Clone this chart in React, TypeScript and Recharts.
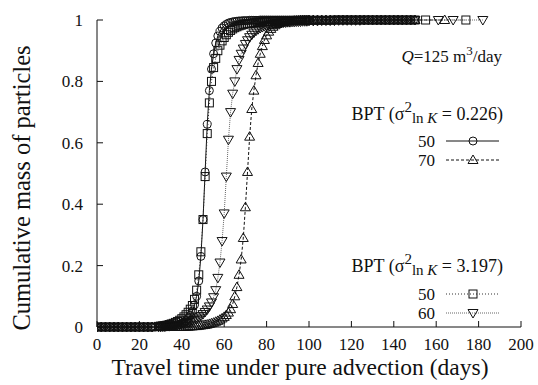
import React from "react";
import { LineChart, Line, XAxis, YAxis } from "recharts";

// travel time (days) at which the cumulative mass was sampled
const days = [
  0, 2, 4, 6, 8, 10, 12, 14, 16, 18, 20, 22, 24, 26,
  29, 30, 31, 32, 33, 34, 35, 36, 37, 38,
  39, 40, 41, 42, 43, 44, 45, 46, 47, 48,
  49, 50, 51, 52, 53, 54, 55, 56, 57, 58,
  59, 60, 61, 62, 63, 64, 65, 66, 67, 68,
  69, 70, 71, 72, 73, 74, 75, 76, 77, 78,
  79, 80, 81, 82, 83, 84, 85, 86, 87, 88,
  89, 90, 91, 92, 93, 94, 95, 96, 97, 98,
  99, 100,
  102, 104, 106, 108, 110, 112, 114, 116, 118, 120, 122, 124, 126,
  128, 130, 132, 134, 136, 138, 140, 142, 144, 146, 148, 150
];

const zeros14 = [0, 0, 0, 0, 0, 0, 0, 0, 0, 0, 0, 0, 0, 0];

// BPT, sigma^2 = 0.226, 50
const massLow50 = [
  ...zeros14,
  0, 0, 0, 0, 0.001, 0.001, 0.002, 0.003, 0.004, 0.006,
  0.008, 0.011, 0.015, 0.02, 0.028, 0.038, 0.052, 0.072, 0.1, 0.15,
  0.23, 0.35, 0.505, 0.66, 0.77, 0.84, 0.89, 0.925, 0.948, 0.963,
  0.974, 0.981, 0.986, 0.99, 0.992, 0.994, 0.995, 0.996, 0.997, 0.997,
  0.998, 0.998, 0.998, 0.999, 0.999, 0.999, 0.999, 0.999, 1, 1,
  1, 1, 1, 1, 1, 1, 1, 1, 1, 1,
  1, 1, 1, 1, 1, 1, 1, 1, 1, 1,
  1, 1,
  1, 1, 1, 1, 1, 1, 1, 1, 1, 1, 1, 1, 1, 1, 1, 1, 1, 1, 1, 1, 1, 1, 1, 1, 1
];

// BPT, sigma^2 = 0.226, 70
const massLow70 = [
  ...zeros14,
  0, 0, 0, 0, 0, 0, 0, 0, 0, 0,
  0, 0, 0.001, 0.001, 0.001, 0.002, 0.002, 0.003, 0.003, 0.004,
  0.005, 0.006, 0.007, 0.008, 0.01, 0.012, 0.014, 0.017, 0.02, 0.024,
  0.028, 0.033, 0.039, 0.047, 0.058, 0.075, 0.1, 0.13, 0.17, 0.22,
  0.29, 0.39, 0.505, 0.62, 0.71, 0.77, 0.82, 0.86, 0.89, 0.915,
  0.935, 0.95, 0.962, 0.971, 0.978, 0.983, 0.987, 0.99, 0.992, 0.994,
  0.995, 0.996, 0.997, 0.997, 0.998, 0.998, 0.998, 0.999, 0.999, 0.999,
  0.999, 1,
  1, 1, 1, 1, 1, 1, 1, 1, 1, 1, 1, 1, 1, 1, 1, 1, 1, 1, 1, 1, 1, 1, 1, 1, 1
];

// BPT, sigma^2 = 3.197, 50
const massHigh50 = [
  ...zeros14,
  0.002, 0.003, 0.004, 0.005, 0.006, 0.008, 0.01, 0.012, 0.015, 0.018,
  0.022, 0.027, 0.033, 0.04, 0.048, 0.058, 0.07, 0.09, 0.12, 0.17,
  0.245, 0.35, 0.49, 0.63, 0.73, 0.8, 0.845, 0.875, 0.9, 0.918,
  0.932, 0.943, 0.952, 0.96, 0.966, 0.971, 0.975, 0.978, 0.981, 0.983,
  0.985, 0.987, 0.988, 0.989, 0.99, 0.991, 0.992, 0.993, 0.993, 0.994,
  0.994, 0.995, 0.995, 0.995, 0.996, 0.996, 0.996, 0.997, 0.997, 0.997,
  0.997, 0.998, 0.998, 0.998, 0.998, 0.998, 0.998, 0.999, 0.999, 0.999,
  0.999, 0.999,
  0.999, 0.999, 0.999, 0.999, 0.999, 1, 1, 1, 1, 1, 1, 1, 1, 1, 1, 1, 1, 1, 1, 1, 1, 1, 1, 1, 1
];

// BPT, sigma^2 = 3.197, 60
const massHigh60 = [
  ...zeros14,
  0.001, 0.001, 0.002, 0.002, 0.003, 0.003, 0.004, 0.005, 0.006, 0.007,
  0.008, 0.01, 0.011, 0.013, 0.015, 0.017, 0.02, 0.023, 0.027, 0.031,
  0.036, 0.042, 0.049, 0.057, 0.067, 0.08, 0.097, 0.12, 0.16, 0.21,
  0.28, 0.37, 0.49, 0.61, 0.7, 0.76, 0.8, 0.84, 0.87, 0.89,
  0.907, 0.922, 0.934, 0.944, 0.952, 0.959, 0.965, 0.97, 0.974, 0.977,
  0.98, 0.982, 0.984, 0.986, 0.987, 0.988, 0.989, 0.99, 0.991, 0.992,
  0.992, 0.993, 0.993, 0.994, 0.994, 0.995, 0.995, 0.995, 0.996, 0.996,
  0.996, 0.997,
  0.997, 0.997, 0.998, 0.998, 0.998, 0.998, 0.999, 0.999, 0.999, 0.999, 0.999, 0.999,
  1, 1, 1, 1, 1, 1, 1, 1, 1, 1, 1, 1, 1
];

// the last few late arrivals
const tailDaysLow70 = [164];
const tailMassLow70 = [1];
const tailDaysHigh50 = [155, 174];
const tailMassHigh50 = [1, 1];
const tailDaysHigh60 = [161, 168, 182];
const tailMassHigh60 = [1, 1, 1];

const xTicks = [0, 20, 40, 60, 80, 100, 120, 140, 160, 180, 200];
const yTicks = [0, 0.2, 0.4, 0.6, 0.8, 1];

const toRows = (t: number[], m: number[], tt: number[] = [], tm: number[] = []) =>
  [...t.map((d, i) => ({ t: d, m: m[i] })), ...tt.map((d, i) => ({ t: d, m: tm[i] }))];

const low50 = toRows(days, massLow50);
const low70 = toRows(days, massLow70, tailDaysLow70, tailMassLow70);
const high50 = toRows(days, massHigh50, tailDaysHigh50, tailMassHigh50);
const high60 = toRows(days, massHigh60, tailDaysHigh60, tailMassHigh60);

const FONT = "'Liberation Serif', 'Times New Roman', serif";
const INK = "#111";

const CircleMark = ({ cx, cy }: any) => (
  <circle cx={cx} cy={cy} r={4} fill="none" stroke={INK} strokeWidth={1} />
);
const SquareMark = ({ cx, cy }: any) => (
  <rect x={cx - 4} y={cy - 4} width={8} height={8} fill="none" stroke={INK} strokeWidth={1} />
);
const UpMark = ({ cx, cy }: any) => (
  <path d={`M${cx},${cy - 5} L${cx + 5},${cy + 3.5} L${cx - 5},${cy + 3.5} Z`} fill="none" stroke={INK} strokeWidth={1} />
);
const DownMark = ({ cx, cy }: any) => (
  <path d={`M${cx},${cy + 5} L${cx + 5},${cy - 3.5} L${cx - 5},${cy - 3.5} Z`} fill="none" stroke={INK} strokeWidth={1} />
);

const dotOf = (Mark: any) => (p: any) => <Mark key={`d${p.index}`} cx={p.cx} cy={p.cy} />;

const BottomTick = ({ x, y, payload }: any) => (
  <g>
    <line x1={x} x2={x} y1={y - 8} y2={y - 14} stroke={INK} />
    <text x={x} y={y + 15} textAnchor="middle" style={{ fontFamily: FONT }} fontSize={17} fill={INK}>
      {payload.value}
    </text>
  </g>
);

const LeftTick = ({ x, y, payload }: any) => (
  <g>
    <line x1={x + 14} x2={x + 20} y1={y} y2={y} stroke={INK} />
    <text x={x} y={y + 6} textAnchor="end" style={{ fontFamily: FONT }} fontSize={17} fill={INK}>
      {payload.value}
    </text>
  </g>
);

const TopTick = ({ x, y }: any) => <line x1={x} x2={x} y1={y} y2={y + 6} stroke={INK} />;
const RightTick = ({ x, y }: any) => <line x1={x} x2={x - 6} y1={y} y2={y} stroke={INK} />;

const LegendRow = ({ y, label, dash, Mark, color }: any) => (
  <g>
    <text x={435} y={y + 6} textAnchor="end" style={{ fontFamily: FONT }} fontSize={17} fill={INK}>
      {label}
    </text>
    <line x1={446} x2={499} y1={y} y2={y} stroke={color} strokeDasharray={dash} />
    <Mark cx={473} cy={y} />
  </g>
);

const BptTitle = ({ y, value }: any) => (
  <text x={503} y={y} textAnchor="end" style={{ fontFamily: FONT }} fontSize={18} fill={INK}>
    BPT (σ
    <tspan dy={-8} fontSize={15}>2</tspan>
    <tspan dy={11} fontSize={15}>ln </tspan>
    <tspan fontSize={15} fontStyle="italic">K</tspan>
    <tspan dy={-3}> = {value})</tspan>
  </text>
);

export default function App() {
  return (
    <div style={{ position: "absolute", left: 0, top: 0, width: 538, height: 385, background: "#fff" }}>
      <LineChart width={538} height={385} data={low50} margin={{ top: 20, right: 17, bottom: 0, left: 0 }}>
        <XAxis
          dataKey="t"
          type="number"
          domain={[0, 200]}
          ticks={xTicks}
          interval={0}
          height={58}
          tickSize={0}
          tickMargin={8}
          tick={<BottomTick />}
          axisLine={{ stroke: INK }}
          tickLine={false}
          allowDataOverflow
        />
        <XAxis
          xAxisId="top"
          orientation="top"
          type="number"
          domain={[0, 200]}
          ticks={xTicks}
          interval={0}
          height={0}
          tickSize={0}
          tickMargin={0}
          tick={<TopTick />}
          axisLine={{ stroke: INK }}
          tickLine={false}
        />
        <YAxis
          type="number"
          domain={[0, 1]}
          ticks={yTicks}
          interval={0}
          width={97}
          tickSize={0}
          tickMargin={14}
          tick={<LeftTick />}
          axisLine={{ stroke: INK }}
          tickLine={false}
        />
        <YAxis
          yAxisId="right"
          orientation="right"
          type="number"
          domain={[0, 1]}
          ticks={yTicks}
          interval={0}
          width={0}
          tickSize={0}
          tickMargin={0}
          tick={<RightTick />}
          axisLine={{ stroke: INK }}
          tickLine={false}
        />
        <Line
          data={low50}
          dataKey="m"
          stroke={INK}
          strokeWidth={1}
          dot={dotOf(CircleMark)}
          isAnimationActive={false}
        />
        <Line
          data={low70}
          dataKey="m"
          stroke={INK}
          strokeWidth={1}
          strokeDasharray="3 2"
          dot={dotOf(UpMark)}
          isAnimationActive={false}
        />
        <Line
          data={high50}
          dataKey="m"
          stroke="#333"
          strokeWidth={1}
          strokeDasharray="1 2"
          dot={dotOf(SquareMark)}
          isAnimationActive={false}
        />
        <Line
          data={high60}
          dataKey="m"
          stroke="#666"
          strokeWidth={1}
          strokeDasharray="1 1"
          dot={dotOf(DownMark)}
          isAnimationActive={false}
        />
      </LineChart>
      <svg width={538} height={385} style={{ position: "absolute", left: 0, top: 0, pointerEvents: "none" }}>
        <text x={300} y={375} textAnchor="middle" style={{ fontFamily: FONT }} fontSize={23.5} fill={INK}>
          Travel time under pure advection (days)
        </text>
        <text
          x={30}
          y={188}
          textAnchor="middle"
          style={{ fontFamily: FONT }}
          fontSize={24.5}
          fill={INK}
          transform="rotate(-90 30 188)"
        >
          Cumulative mass of particles
        </text>
        <text x={502} y={62} textAnchor="end" style={{ fontFamily: FONT }} fontSize={17} fill={INK}>
          <tspan fontStyle="italic">Q</tspan>=125 m<tspan dy={-7} fontSize={13}>3</tspan>
          <tspan dy={7}>/day</tspan>
        </text>
        <BptTitle y={120} value="0.226" />
        <LegendRow y={141} label="50" Mark={CircleMark} color={INK} />
        <LegendRow y={160} label="70" dash="3 2" Mark={UpMark} color={INK} />
        <BptTitle y={272} value="3.197" />
        <LegendRow y={294} label="50" dash="1 2" Mark={SquareMark} color="#333" />
        <LegendRow y={313} label="60" dash="1 1" Mark={DownMark} color="#666" />
      </svg>
    </div>
  );
}
